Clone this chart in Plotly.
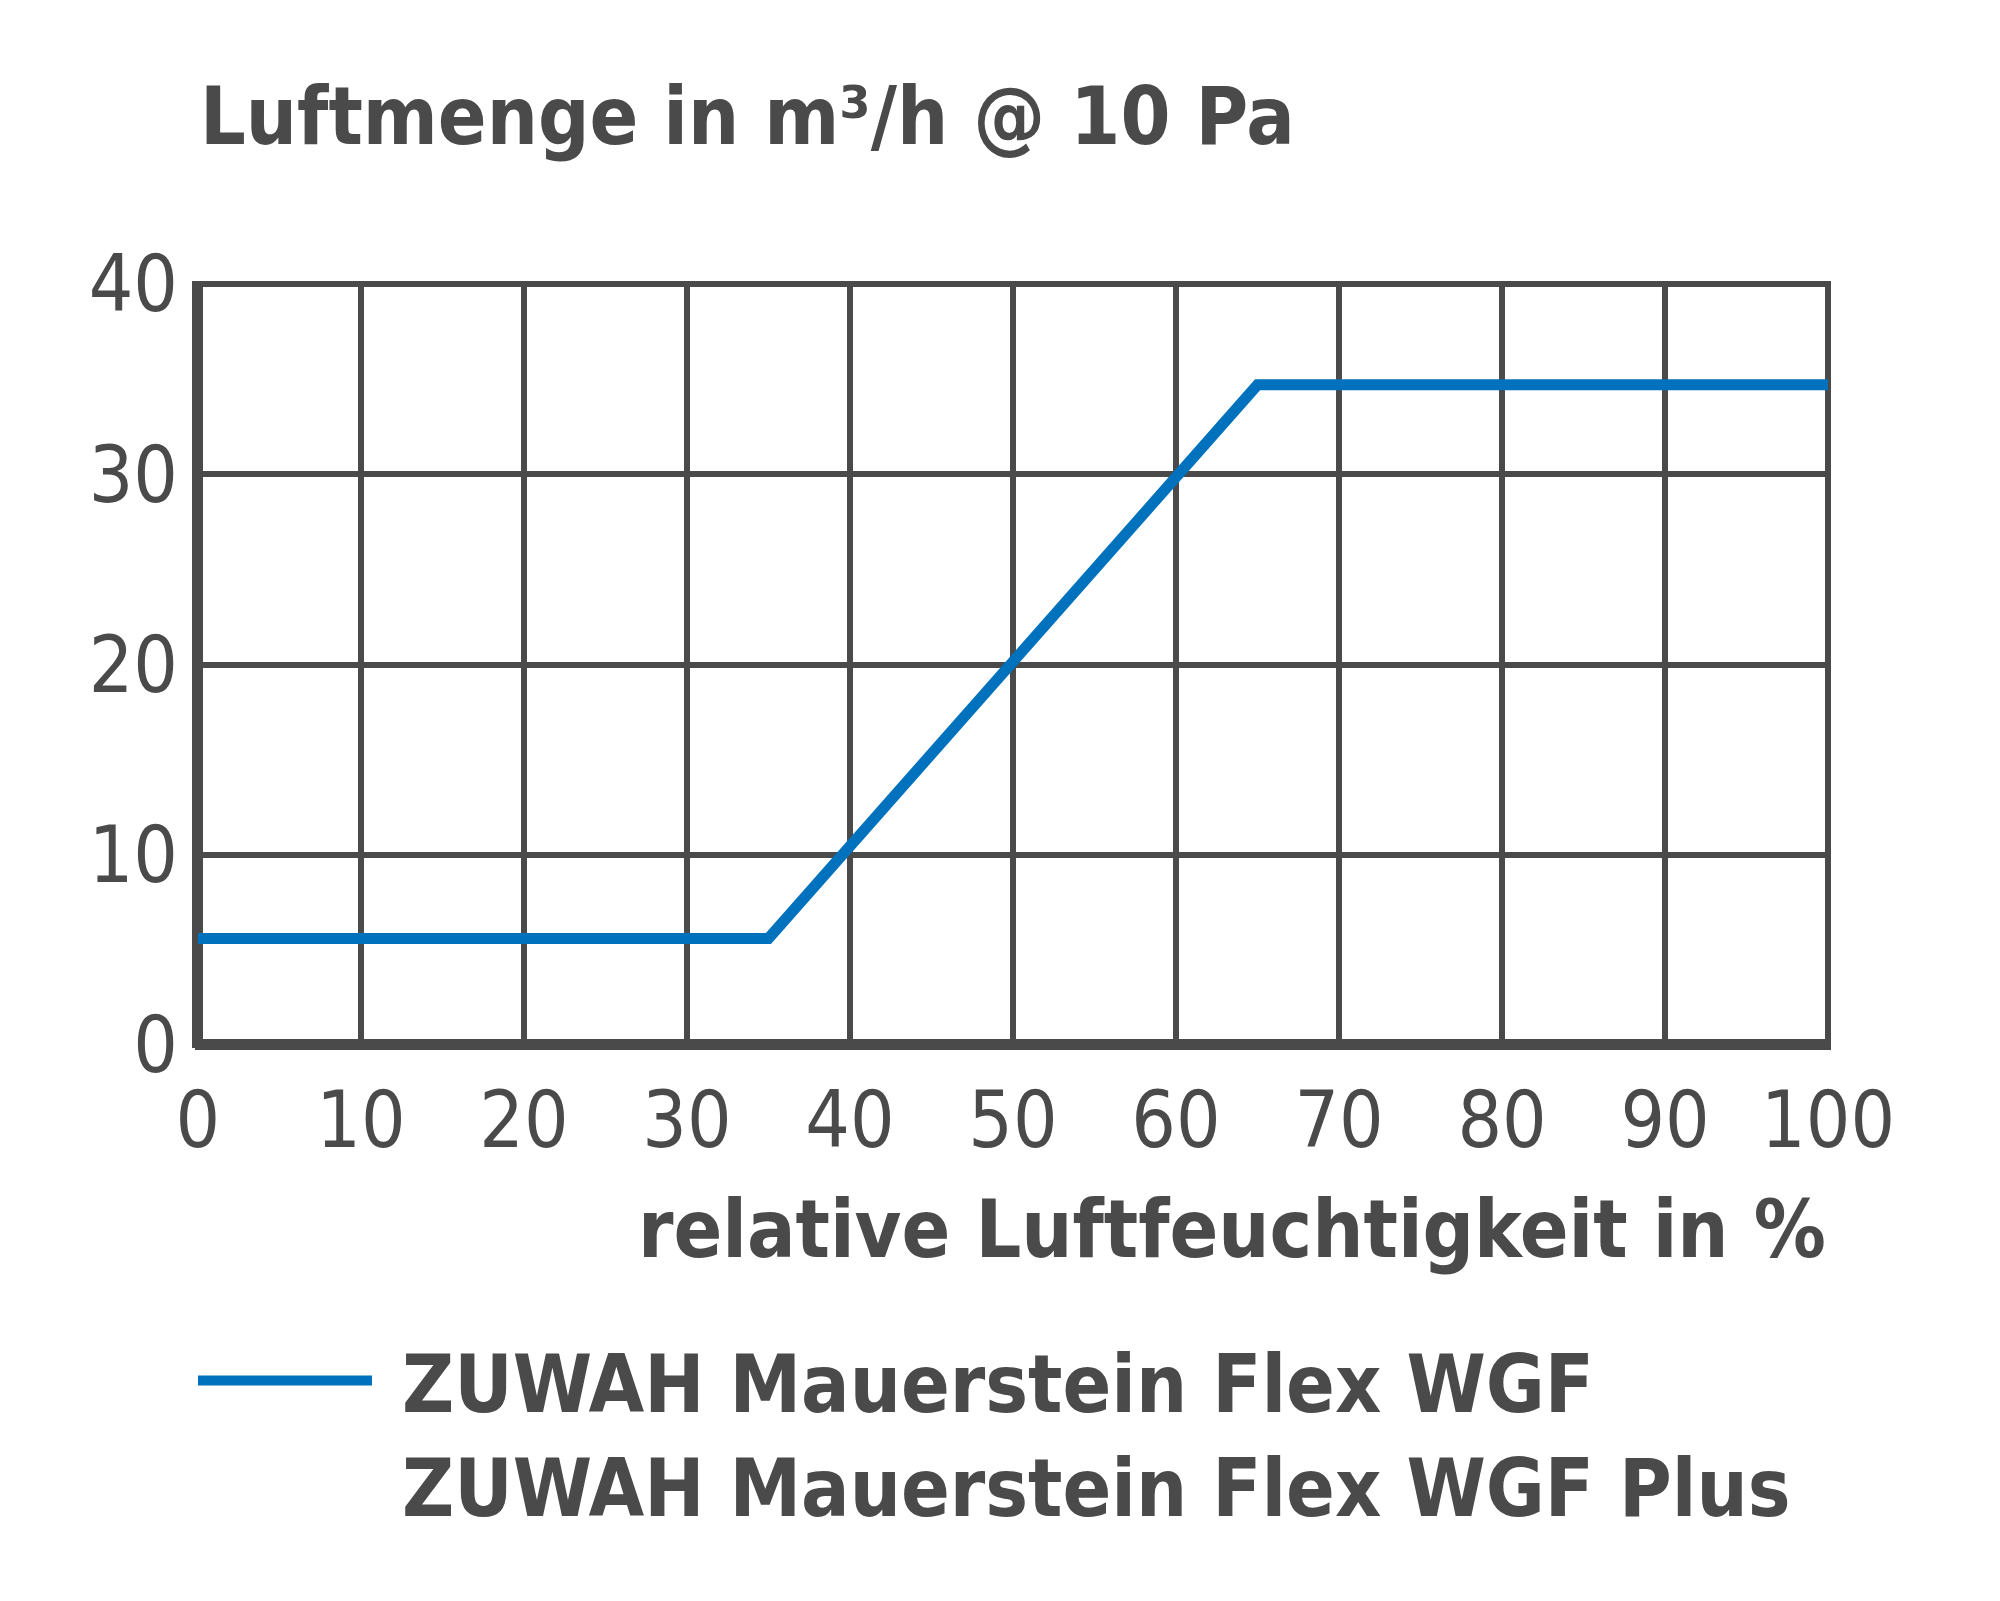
import plotly.graph_objects as go

# Luftmenge ueber relativer Luftfeuchtigkeit
feuchte = [0, 35, 65, 100]
luftmenge = [5.6, 5.6, 34.7, 34.7]
x_ticks = [0, 10, 20, 30, 40, 50, 60, 70, 80, 90, 100]
y_ticks = [0, 10, 20, 30, 40]

serie_name = "&nbsp;ZUWAH Mauerstein Flex WGF<br>&nbsp;ZUWAH Mauerstein Flex WGF Plus"
titel = "Luftmenge in m³/h @ 10 Pa"
x_titel = "relative Luftfeuchtigkeit in %"

grau = "#4a4a4a"
blau = "#0071bc"
schrift = "DejaVu Sans Condensed, sans-serif"

W, H = 2000, 1601
# die Seite hat 8px Rand, deshalb alles etwas nach links/oben
l, r, t, b = 187, 177, 273, 561


def px_x(p):
    return (p - l) / (W - l - r)


def px_y(p):
    return (H - b - p) / (H - t - b)


line_trace = go.Scatter(x=feuchte, y=luftmenge, mode="lines", name=serie_name,
                        line=dict(color=blau, width=11))

layout = go.Layout(
    width=W, height=H,
    margin=dict(l=l, r=r, t=t, b=b, autoexpand=False),
    paper_bgcolor="white", plot_bgcolor="white",
    font=dict(family=schrift, color=grau),
    xaxis=dict(range=[-0.18, 100.18], tickvals=x_ticks, showgrid=True,
               gridcolor=grau, gridwidth=6, zeroline=True, zerolinecolor=grau,
               zerolinewidth=11, showline=False, ticks="",
               tickfont=dict(size=78, color=grau, family=schrift, weight=300),
               ticklabelstandoff=20),
    yaxis=dict(range=[-0.16, 40.16], tickvals=y_ticks, showgrid=True,
               gridcolor=grau, gridwidth=6, zeroline=True, zerolinecolor=grau,
               zerolinewidth=11, showline=False, ticks="",
               tickfont=dict(size=78, color=grau, family=schrift, weight=300),
               ticklabelstandoff=16),
    title=dict(text=titel, xref="container", yref="container",
               x=192 / W, xanchor="left", y=1 - 80 / H, yanchor="top",
               font=dict(size=80, color=grau, family=schrift, weight="bold")),
    showlegend=True,
    legend=dict(xref="container", yref="container", x=185 / W, y=1 - 1314 / H,
                xanchor="left", yanchor="top", valign="top", itemwidth=174,
                font=dict(size=80, color=grau, family=schrift, weight="bold"),
                bgcolor="rgba(0,0,0,0)"),
    annotations=[dict(text=x_titel, xref="paper", yref="paper",
                      x=px_x(1820), xanchor="right",
                      y=px_y(1173), yanchor="top",
                      showarrow=False,
                      font=dict(size=80, color=grau, family=schrift, weight="bold"))],
)

fig = go.Figure(data=[line_trace], layout=layout)
fig.write_html("out.html")
